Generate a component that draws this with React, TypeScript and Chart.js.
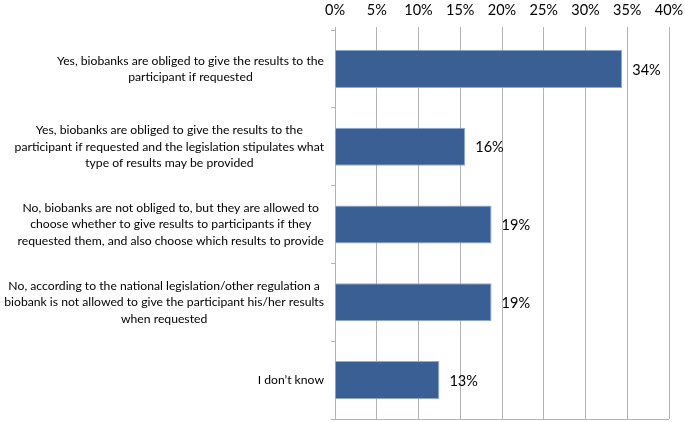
import React, { useEffect, useRef } from 'react';
import { Chart, registerables } from 'chart.js';

Chart.register(...registerables);

const categories: string[][] = [
  ['Yes, biobanks are obliged to give the results to the', 'participant if requested'],
  [
    'Yes, biobanks are obliged to give the results to the',
    'participant if requested and the legislation stipulates what',
    'type of results may be provided',
  ],
  [
    'No, biobanks are not obliged to, but they are allowed to',
    'choose whether to give results to participants if they',
    'requested them, and also choose which results to provide',
  ],
  [
    'No, according to the national legislation/other regulation a',
    'biobank is not allowed to give the participant his/her results',
    'when requested',
  ],
  ['I don\u2019t know'],
];

const values: number[] = [34.4, 15.6, 18.75, 18.75, 12.5];
const valueLabels: string[] = ['34%', '16%', '19%', '19%', '13%'];

const xMin = 0;
const xMax = 40;
const xStep = 5;

const FONT = 'Lato, "Open Sans", sans-serif';
const CAT_FONT_SIZE = 12.2;
const CAT_LINE_H = 16.5;
const GRID = '#b4b4b4';

const categoryLabelPlugin = {
  id: 'categoryLabels',
  afterDraw(chart: any) {
    const y = chart.scales.y;
    const ctx = chart.ctx;
    ctx.save();
    ctx.font = `${CAT_FONT_SIZE}px ${FONT}`;
    ctx.fillStyle = '#000';
    ctx.textBaseline = 'middle';
    ctx.textAlign = 'center';
    const right = y.right - 11;
    categories.forEach((lines, i) => {
      const cy = y.getPixelForTick(i);
      const w = Math.max(...lines.map((l) => ctx.measureText(l).width));
      const cx = right - w / 2;
      const n = lines.length;
      lines.forEach((l, j) => ctx.fillText(l, cx, cy + (j - (n - 1) / 2) * CAT_LINE_H));
    });
    ctx.restore();
  },
};

const valueLabelPlugin = {
  id: 'valueLabels',
  afterDatasetsDraw(chart: any) {
    const meta = chart.getDatasetMeta(0);
    const ctx = chart.ctx;
    ctx.save();
    ctx.font = `14.5px ${FONT}`;
    ctx.fillStyle = '#000';
    ctx.textBaseline = 'middle';
    ctx.textAlign = 'left';
    meta.data.forEach((el: any, i: number) => {
      ctx.fillText(valueLabels[i], el.x + 10, el.y + 1);
    });
    ctx.restore();
  },
};

export default function App() {
  const ref = useRef<HTMLCanvasElement | null>(null);

  useEffect(() => {
    if (!ref.current) return;
    const chart = new Chart(ref.current, {
      type: 'bar',
      data: {
        labels: categories.map((c) => c.join(' ')),
        datasets: [
          {
            data: values,
            backgroundColor: '#3A5F94',
            borderColor: '#8fabd3',
            borderWidth: 1,
            categoryPercentage: 0.49,
            barPercentage: 1,
          },
        ],
      },
      options: {
        indexAxis: 'y',
        animation: false,
        responsive: true,
        maintainAspectRatio: false,
        layout: { padding: { left: 0, right: 0, top: 0, bottom: 3 } },
        plugins: { legend: { display: false }, tooltip: { enabled: false } },
        scales: {
          x: {
            position: 'top',
            min: xMin,
            max: xMax,
            ticks: {
              stepSize: xStep,
              callback: (v: any) => `${v}%`,
              font: { family: FONT, size: 14.5 },
              color: '#000',
              padding: 8,
            },
            grid: { color: GRID, tickLength: 3, lineWidth: 1 },
            border: { display: false },
            afterFit: (s: any) => {
              s.height = 30;
              s.paddingRight = 16;
              s.paddingLeft = 0;
            },
          },
          y: {
            ticks: { display: false },
            grid: {
              offset: true,
              color: (c: any) =>
                c.index === undefined || c.index >= categories.length ? GRID : 'rgba(0,0,0,0)',
              tickColor: GRID,
              tickLength: 4,
            },
            border: { display: true, color: GRID },
            afterFit: (s: any) => {
              s.width = 335;
            },
          },
        },
      },
      plugins: [categoryLabelPlugin, valueLabelPlugin],
    });
    return () => chart.destroy();
  }, []);

  return (
    <div style={{ position: 'fixed', left: 0, top: 0, width: 685, height: 422, background: '#fff' }}>
      <canvas ref={ref} />
    </div>
  );
}
